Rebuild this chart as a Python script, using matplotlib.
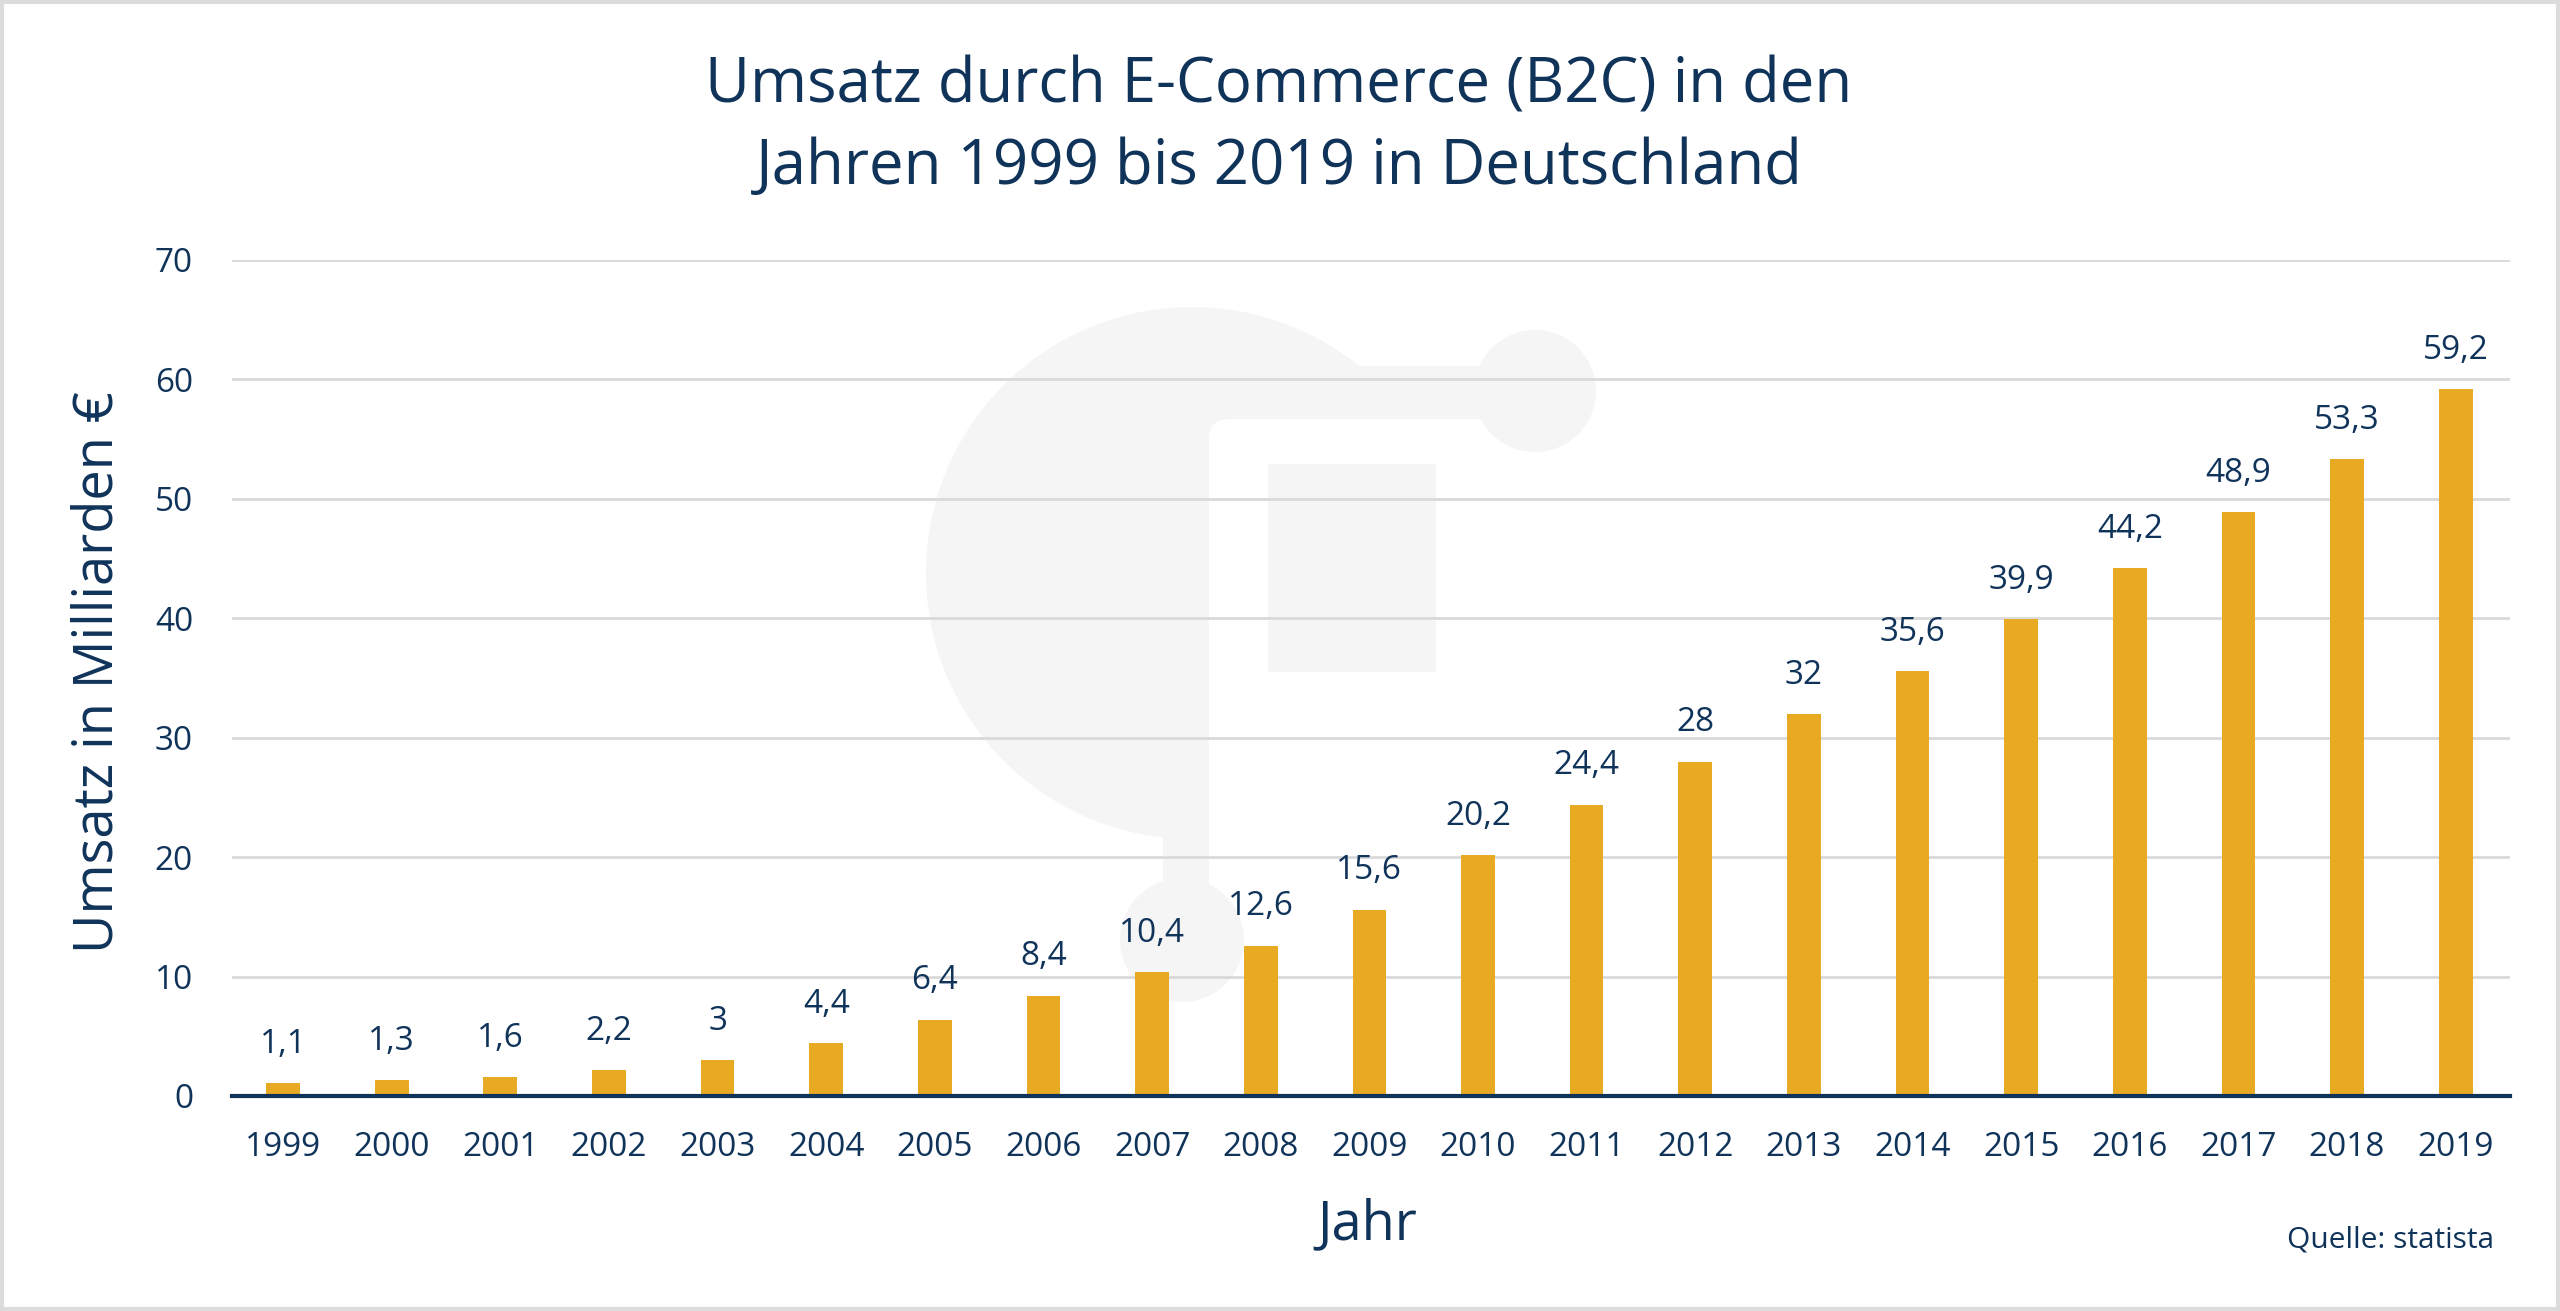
import matplotlib
matplotlib.use('Agg')
import matplotlib.pyplot as plt
from matplotlib.patches import Circle, Rectangle, FancyBboxPatch

plt.rcParams['font.family'] = ['Open Sans', 'DejaVu Sans']

# data
years = [str(y) for y in range(1999, 2020)]
umsatz = [1.1, 1.3, 1.6, 2.2, 3, 4.4, 6.4, 8.4, 10.4, 12.6, 15.6, 20.2,
          24.4, 28, 32, 35.6, 39.9, 44.2, 48.9, 53.3, 59.2]
yticks = [0, 10, 20, 30, 40, 50, 60, 70]

navy = '#10335a'
gold = '#e8a923'
grid = '#d9d9d9'
wm = '#f5f5f5'

W, H = 2560, 1311
fig = plt.figure(figsize=(W/100, H/100), dpi=100)

# background layer in pixel coords for watermark + frame
bg = fig.add_axes([0, 0, 1, 1])
bg.set_xlim(0, W)
bg.set_ylim(H, 0)
bg.axis('off')
bg.add_patch(Circle((1192, 573), 266, color=wm, lw=0))
bg.add_patch(Rectangle((1192, 366), 343, 53, color=wm, lw=0))
bg.add_patch(Circle((1535, 391), 61, color=wm, lw=0))
# white cut-outs forming the "F"
bg.add_patch(FancyBboxPatch((1229, 439), 19, 460, boxstyle='round,pad=20',
                            color='white', lw=0))
bg.add_patch(Rectangle((1240, 419), 234, 45, color='white', lw=0))
bg.add_patch(Rectangle((1268, 672), 250, 250, color='white', lw=0))
bg.add_patch(Rectangle((1436, 464), 80, 210, color='white', lw=0))
bg.add_patch(Rectangle((1163, 800), 46, 100, color=wm, lw=0))
bg.add_patch(Circle((1182, 940), 62, color=wm, lw=0))
# frame
bg.add_patch(Rectangle((2, 2), W - 4, H - 4, fill=False, ec='#dcdcdc', lw=3))

ax = fig.add_axes([232/W, 1 - 1096/H, (2510-232)/W, (1096-260)/H])
ax.patch.set_alpha(0)
x = list(range(len(years)))
bars = ax.bar(x, umsatz, width=0.31, color=gold, zorder=3)
ax.bar_label(bars, labels=[f'{v:g}'.replace('.', ',') for v in umsatz],
             padding=16, fontsize=24, color=navy)

ax.set_xlim(-0.47, 20.5)
ax.set_ylim(0, 70)
ax.set_yticks(yticks)
ax.set_xticks(x)
ax.set_xticklabels(years)
ax.tick_params(axis='both', length=0, labelsize=24, labelcolor=navy)
ax.tick_params(axis='x', pad=25)
ax.tick_params(axis='y', pad=28)
ax.yaxis.grid(True, color=grid, lw=2, zorder=0)
ax.set_axisbelow(True)
for s in ['left', 'right', 'top']:
    ax.spines[s].set_visible(False)
ax.spines['bottom'].set_color(navy)
ax.spines['bottom'].set_linewidth(3)
ax.spines['bottom'].set_zorder(4)

fig.text(1279/W, 1 - 127/H, 'Umsatz durch E-Commerce (B2C) in den\nJahren 1999 bis 2019 in Deutschland',
         ha='center', va='center', fontsize=44.5, color=navy, linespacing=1.38)
fig.text(98/W, 1 - 672/H, 'Umsatz in Milliarden €', rotation=90,
         ha='center', va='center', fontsize=39, color=navy)
fig.text(1367/W, 1 - 1225/H, 'Jahr', ha='center', va='center', fontsize=39, color=navy)
fig.text(2494/W, 1 - 1240/H, 'Quelle: statista', ha='right', va='center',
         fontsize=21.5, color=navy)

fig.savefig('out.png', dpi=100)
